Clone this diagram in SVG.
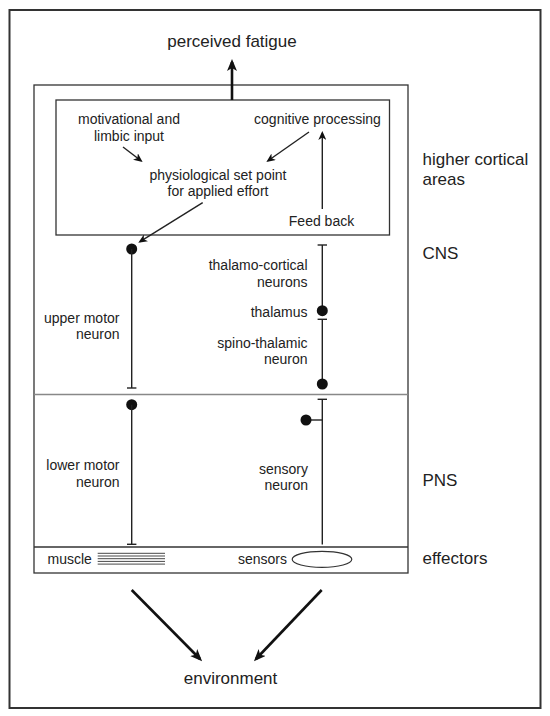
<svg xmlns="http://www.w3.org/2000/svg" width="550" height="716" viewBox="0 0 550 716">
<defs>
<style>
text{font-family:"Liberation Sans",Arial,sans-serif;fill:#222;}
.lg{font-size:17px;}
.sm{font-size:14px;}
.box{fill:none;stroke:#333;stroke-width:1.3;}
.ln{stroke:#222;stroke-width:1.4;fill:none;}
.thick{stroke:#111;stroke-width:2.6;fill:none;}
.dot{fill:#111;}
</style>
<marker id="bigArrow" viewBox="0 0 12 10" refX="9" refY="5" markerWidth="12" markerHeight="10" markerUnits="userSpaceOnUse" orient="auto">
<path d="M0,0 L12,5 L0,10 L3,5 Z" fill="#111"/>
</marker>
<marker id="smArrow" viewBox="0 0 9 8" refX="7" refY="4" markerWidth="9" markerHeight="8" markerUnits="userSpaceOnUse" orient="auto">
<path d="M0,0 L9,4 L0,8 L2.5,4 Z" fill="#111"/>
</marker>
</defs>
<rect x="0" y="0" width="550" height="716" fill="#fff"/>

<g id="frame">
<rect x="9.5" y="10" width="531" height="698" fill="none" stroke="#333" stroke-width="2"/>
</g>

<g id="main-box">
<rect class="box" x="34" y="85" width="374" height="488"/>
<line x1="34" y1="394.5" x2="408" y2="394.5" stroke="#888" stroke-width="1.4"/>
<line x1="34" y1="547" x2="408" y2="547" stroke="#333" stroke-width="1.3"/>
</g>

<g id="higher-cortical-box">
<rect class="box" x="56" y="100" width="333.5" height="135"/>
</g>

<g id="perceived-fatigue">
<text class="lg" x="232" y="47" text-anchor="middle">perceived fatigue</text>
</g>

<g id="motivational">
<text class="sm" x="129" y="124" text-anchor="middle">motivational and</text>
<text class="sm" x="129" y="140.5" text-anchor="middle">limbic input</text>
</g>

<g id="cognitive">
<text class="sm" x="317.5" y="124" text-anchor="middle">cognitive processing</text>
</g>

<g id="setpoint">
<text class="sm" x="218" y="180" text-anchor="middle">physiological set point</text>
<text class="sm" x="218" y="195.5" text-anchor="middle">for applied effort</text>
</g>

<g id="feedback">
<text class="sm" x="321.5" y="226" text-anchor="middle">Feed back</text>
</g>

<g id="upper-motor-neuron">
<circle class="dot" cx="131.7" cy="249" r="5.5"/>
<line class="ln" x1="131.7" y1="249" x2="131.7" y2="388"/>
<line class="ln" x1="127" y1="388" x2="136.4" y2="388"/>
<text class="sm" x="119.5" y="322.5" text-anchor="end">upper motor</text>
<text class="sm" x="119.5" y="339" text-anchor="end">neuron</text>
</g>

<g id="thalamo-cortical-neurons">
<line class="ln" x1="317.6" y1="245" x2="327" y2="245"/>
<line class="ln" x1="322.3" y1="245" x2="322.3" y2="310.7"/>
<circle class="dot" cx="322.3" cy="310.7" r="5.5"/>
<text class="sm" x="307.5" y="270" text-anchor="end">thalamo-cortical</text>
<text class="sm" x="307.5" y="286.5" text-anchor="end">neurons</text>
<text class="sm" x="307.5" y="316.5" text-anchor="end">thalamus</text>
</g>

<g id="spino-thalamic-neuron">
<line class="ln" x1="317.6" y1="319.3" x2="327" y2="319.3"/>
<line class="ln" x1="322.3" y1="319.3" x2="322.3" y2="384"/>
<circle class="dot" cx="322.3" cy="384" r="5.5"/>
<text class="sm" x="307.5" y="348" text-anchor="end">spino-thalamic</text>
<text class="sm" x="307.5" y="364" text-anchor="end">neuron</text>
</g>

<g id="lower-motor-neuron">
<circle class="dot" cx="131.7" cy="404.7" r="5.5"/>
<line class="ln" x1="131.7" y1="404.7" x2="131.7" y2="544.3"/>
<line class="ln" x1="127" y1="544.3" x2="136.4" y2="544.3"/>
<text class="sm" x="119.5" y="470" text-anchor="end">lower motor</text>
<text class="sm" x="119.5" y="486.5" text-anchor="end">neuron</text>
</g>

<g id="sensory-neuron">
<line class="ln" x1="317.6" y1="399.3" x2="327" y2="399.3"/>
<line class="ln" x1="322.3" y1="399.3" x2="322.3" y2="544.5"/>
<line class="ln" x1="306" y1="420" x2="322.3" y2="420"/>
<circle class="dot" cx="306" cy="420" r="5.5"/>
<text class="sm" x="308" y="473.5" text-anchor="end">sensory</text>
<text class="sm" x="308" y="489.5" text-anchor="end">neuron</text>
</g>

<g id="muscle">
<text class="sm" x="47.5" y="563.5">muscle</text>
<g stroke="#333" stroke-width="0.9">
<line x1="97.7" y1="553.3" x2="165" y2="553.3"/>
<line x1="97.7" y1="556" x2="165" y2="556"/>
<line x1="97.7" y1="558.7" x2="165" y2="558.7"/>
<line x1="97.7" y1="561.4" x2="165" y2="561.4"/>
<line x1="97.7" y1="564.1" x2="165" y2="564.1"/>
</g>
</g>

<g id="sensors">
<text class="sm" x="238" y="563.5">sensors</text>
<ellipse cx="322" cy="559.3" rx="29.8" ry="8" fill="none" stroke="#333" stroke-width="1.2"/>
</g>

<g id="region-labels">
<text class="lg" x="422.5" y="165">higher cortical</text>
<text class="lg" x="422.5" y="185">areas</text>
<text class="lg" x="422.5" y="259">CNS</text>
<text class="lg" x="422.5" y="486">PNS</text>
<text class="lg" x="422.5" y="563.5">effectors</text>
</g>

<g id="environment">
<text class="lg" x="230.5" y="683.5" text-anchor="middle">environment</text>
</g>

<g id="connectors">
<line class="thick" x1="232" y1="100" x2="232" y2="62" marker-end="url(#bigArrow)"/>
<line class="ln" x1="123" y1="147" x2="141" y2="160.7" marker-end="url(#smArrow)"/>
<line class="ln" x1="309" y1="132" x2="268" y2="160.8" marker-end="url(#smArrow)"/>
<line class="ln" x1="202.7" y1="202.7" x2="140" y2="241.6" marker-end="url(#smArrow)"/>
<line class="ln" x1="322.3" y1="209" x2="322.3" y2="133" marker-end="url(#smArrow)"/>
<line class="thick" x1="131.7" y1="590" x2="200" y2="659" marker-end="url(#bigArrow)"/>
<line class="thick" x1="321.7" y1="590" x2="256" y2="659" marker-end="url(#bigArrow)"/>
</g>
</svg>
